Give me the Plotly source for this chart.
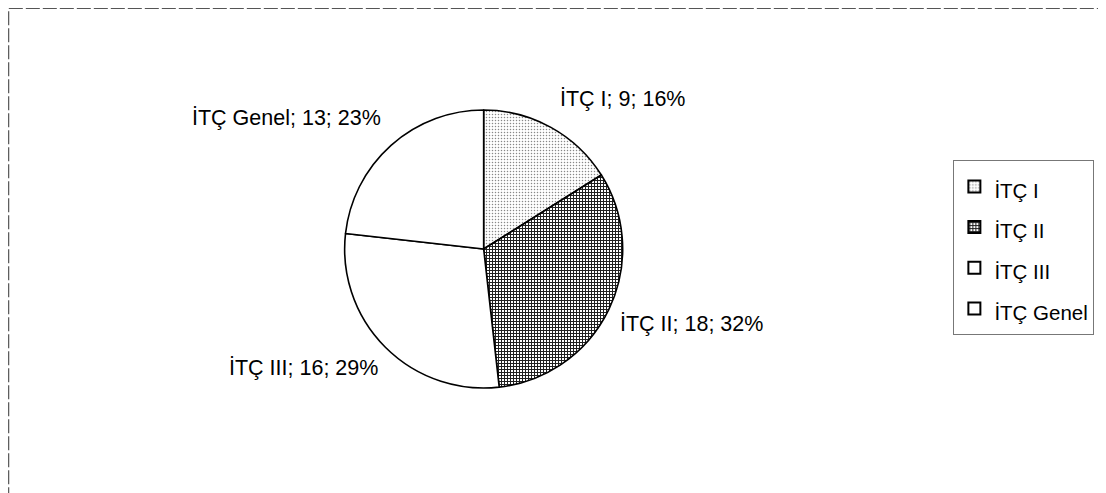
import plotly.graph_objects as go

# datos del gráfico
etiquetas = ["İTÇ I", "İTÇ II", "İTÇ III", "İTÇ Genel"]
valores = [9, 18, 16, 13]

# estilo de cada porción (relleno con trama, como el original impreso)
colores_fondo = ["#e4e4e4", "#7c7c7c", "#ffffff", "#ffffff"]
tramas = [".", "+", "", ""]
colores_trama = ["#888888", "#1e1e1e", "#000000", "#000000"]
solidez = [0.2, 0.55, 0.3, 0.3]

# posición de las etiquetas externas: (x, y, anclaje horizontal) en papel
pos_etiquetas = [
    (0.5009, 0.8124, "left"),
    (0.5556, 0.3485, "left"),
    (0.3388, 0.2577, "right"),
    (0.3415, 0.7732, "right"),
]

total = sum(valores)
textos = [f"{e}; {v}; {round(v / total * 100)}%" for e, v in zip(etiquetas, valores)]

fig = go.Figure(go.Pie(
    labels=[f"<span style='font-size:20.5px'>{e}</span>" for e in etiquetas],
    values=valores,
    sort=False,
    direction="clockwise",
    rotation=0,
    textinfo="none",
    hoverinfo="value+percent",
    marker=dict(
        colors=colores_fondo,
        line=dict(color="#000000", width=1.6),
        pattern=dict(shape=tramas, fgcolor=colores_trama, size=3, solidity=solidez),
    ),
    domain=dict(x=[0.3066, 0.5598], y=[0.2165, 0.7897]),
))

for txt, (px_, py_, anc) in zip(textos, pos_etiquetas):
    fig.add_annotation(
        x=px_, y=py_, xref="paper", yref="paper",
        xanchor=anc, yanchor="middle",
        text=txt, showarrow=False,
        font=dict(size=21.5, color="#000000"),
    )

# marco exterior del gráfico
fig.add_shape(
    type="rect", xref="paper", yref="paper",
    x0=0.0006, x1=0.9985, y0=-0.05, y1=0.999,
    line=dict(color="#555555", width=1.2, dash="14px,3px"),
)

fig.update_layout(
    width=1098,
    height=485,
    template="plotly_white",
    paper_bgcolor="#ffffff",
    plot_bgcolor="#ffffff",
    margin=dict(t=0, b=0, l=0, r=0),
    font=dict(family="Liberation Sans, Arial, sans-serif", color="#000000"),
    showlegend=True,
    legend=dict(
        x=0.861, y=0.6865, xanchor="left", yanchor="top",
        bordercolor="#777777", borderwidth=1,
        font=dict(size=29),  # interlineado amplio; el texto va más chico
        itemsizing="constant",
    ),
)

fig.write_html("out.html")
